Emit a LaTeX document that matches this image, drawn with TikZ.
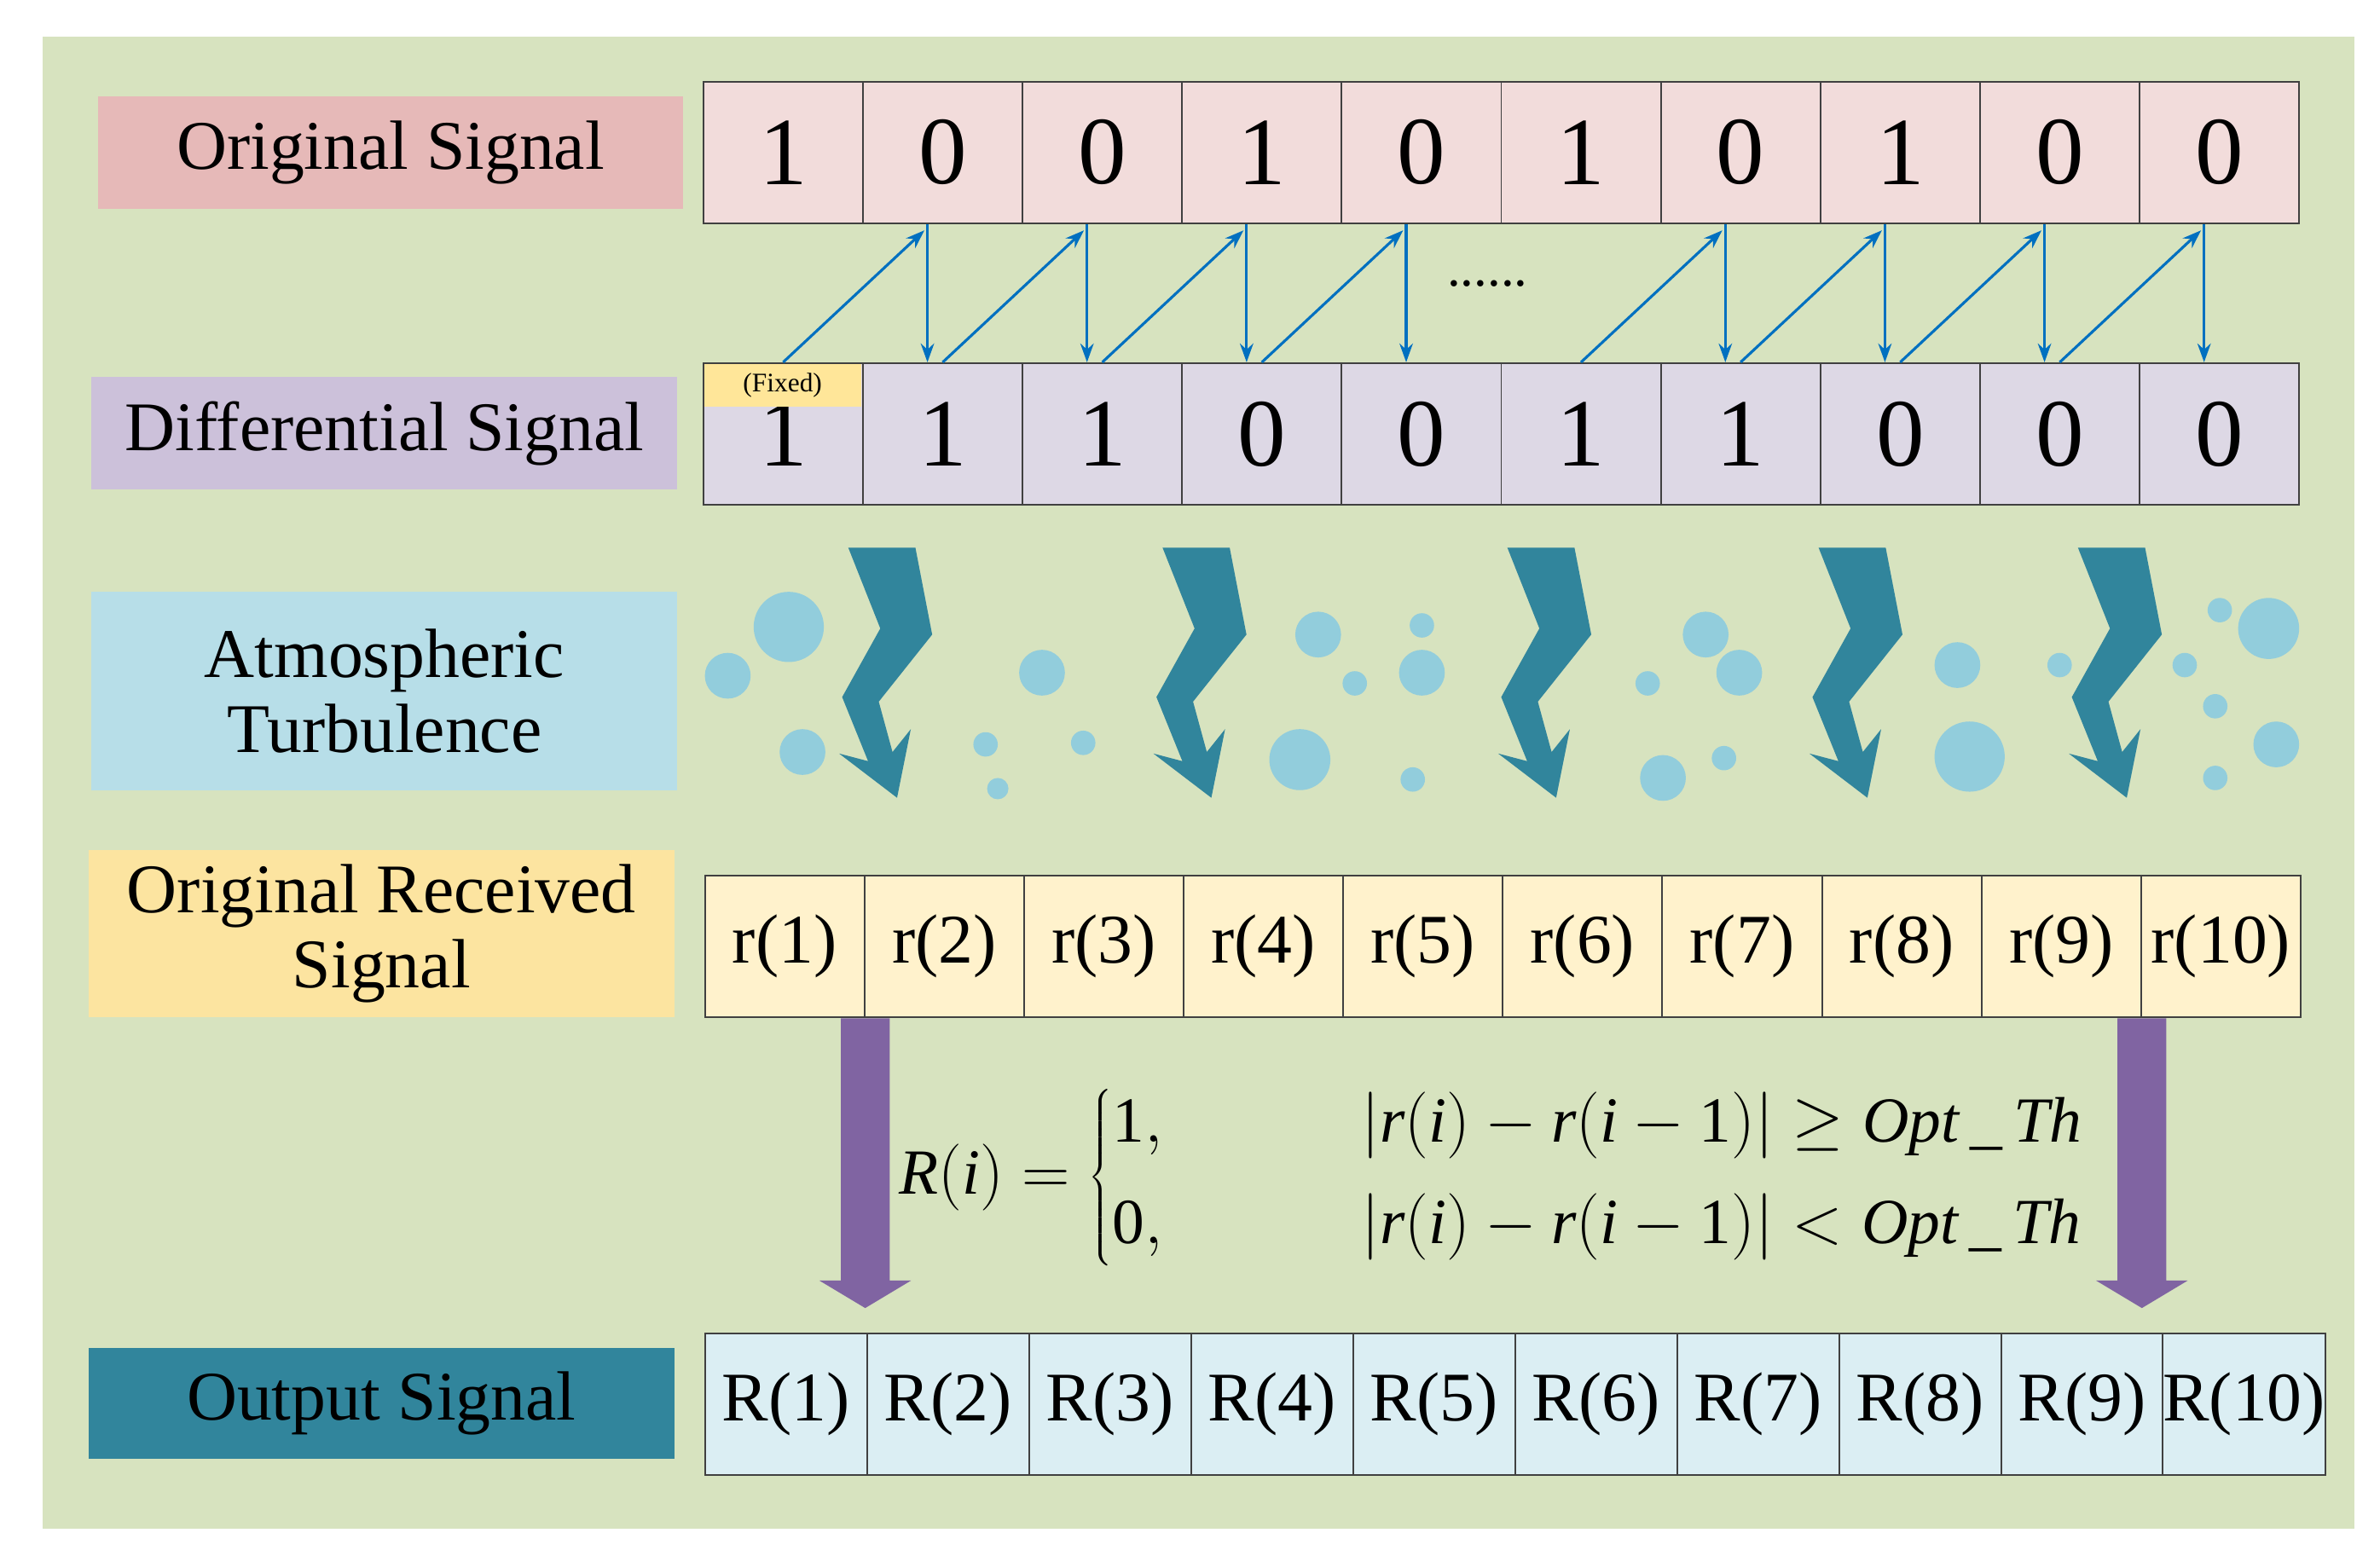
\documentclass[tikz,border=0pt]{standalone}
\usepackage{fontspec}
\setmainfont{Liberation Serif}
\usetikzlibrary{arrows.meta,calc}
\definecolor{bg}{HTML}{D7E3BF}
\definecolor{lorig}{HTML}{E6B9B8}
\definecolor{corig}{HTML}{F2DCDB}
\definecolor{ldiff}{HTML}{CCC1DA}
\definecolor{cdiff}{HTML}{DDD8E5}
\definecolor{latm}{HTML}{B7DEE8}
\definecolor{lrec}{HTML}{FCE4A0}
\definecolor{crec}{HTML}{FFF2CC}
\definecolor{lout}{HTML}{31859C}
\definecolor{cout}{HTML}{DBEEF3}
\definecolor{fixed}{HTML}{FFE699}
\definecolor{link}{HTML}{0070C0}
\definecolor{bolt}{HTML}{31859C}
\definecolor{bubble}{HTML}{92CDDC}
\definecolor{purp}{HTML}{8064A2}
\newcommand{\ti}[1]{\textit{#1}}
\newcommand{\tr}[1]{\textrm{#1}}
\begin{document}
\begin{tikzpicture}[x=0.02cm,y=-0.02cm,
  lab/.style={minimum width=7.68cm,minimum height=1.48cm,inner sep=0pt,align=center,font=\fontsize{26}{30}\selectfont},
  cell/.style={draw=black!75,line width=0.6pt,minimum width=2.092cm,minimum height=1.86cm,inner sep=0pt,font=\fontsize{36}{40}\selectfont},
  rcell/.style={cell,font=\fontsize{26}{30}\selectfont},
  link/.style={draw=link,line width=1pt,-{Stealth[length=7pt,width=5pt]}},
  fat/.style={fill=purp}]
\useasboundingbox (0,0) rectangle (1560,1020);
\fill[bg] (28,24) rectangle (1543,1002);
% labels
\node[lab,fill=lorig] (lo) at (256,100) {Original Signal};
\node[lab,fill=ldiff] (ld) at (252,284) {Differential Signal};
\node[lab,fill=latm,minimum height=2.6cm] (la) at (252,453) {Atmospheric\\[-2pt]Turbulence};
\node[lab,fill=lrec,minimum height=2.2cm] (lr) at (250,612) {Original Received\\[-2pt]Signal};
\node[lab,fill=lout,minimum height=1.46cm] (lq) at (250,920) {Output Signal};
% cells
\foreach \v [count=\k] in {1,0,0,1,0,1,0,1,0,0}
  \node[cell,fill=corig] (o\k) at ({461+104.6*(\k-0.5)},100) {\v};
\foreach \v [count=\k] in {1,1,1,0,0,1,1,0,0,0}
  \node[cell,fill=cdiff] (d\k) at ({461+104.6*(\k-0.5)},284.5) {\v};
\node[fill=fixed,minimum width=2.06cm,minimum height=0.56cm,inner sep=0pt,anchor=north west,font=\fontsize{10}{10}\selectfont] (fx) at ($(d1.north west)+(0.6,0.6)$) {(Fixed)};
\foreach \k in {1,...,10}
  \node[rcell,fill=crec] (r\k) at ({462+104.6*(\k-0.5)},620.5) {r(\k)};
\foreach \k in {1,...,10}
  \node[rcell,fill=cout,minimum width=2.124cm] (q\k) at ({462+106.2*(\k-0.5)},920.5) {R(\k)};
% differential links
\foreach \k in {2,3,4,5,7,8,9,10}{
  \draw[link] ($(o\k.south)+(-10,0)$) -- ($(d\k.north)+(-10,0)$);
  \pgfmathtruncatemacro{\p}{\k-1}
  \draw[link] (d\p.north) -- ($(o\k.south)+(-12,4)$);
}
\node[font=\fontsize{20}{20}\selectfont] (dots) at (975,186) {......};
% turbulence
\foreach \bx in {556,762,988,1192,1362}
  \fill[bolt,shift={(\bx-556,0)}] (556,359) -- (600,359) -- (611,416) -- (576,460) -- (585,493)
     -- (597,478) -- (588,523) -- (550,494) -- (569,499) -- (552,457) -- (577,412) -- cycle;
\foreach \cx/\cy/\r in {517/411/23,477/443/15,526/493/15,683/441/15,646/488/8,654/517/7,710/487/8,
  864/416/15,888/448/8,932/410/8,932/441/15,852/498/20,926/511/8,1118/416/15,1140/441/15,
  1080/448/8,1090/510/15,1130/497/8,1283/436/15,1291/496/23,1350/436/8,1455/400/8,1487/412/20,
  1432/436/8,1452/463/8,1492/488/15,1452/510/8}
  \fill[bubble] (\cx,\cy) circle[radius=\r*0.02cm];
% decision arrows
\coordinate (a1) at ($(r1.south east)$);
\coordinate (a2) at ($(r9.south east)$);
\foreach \a in {a1,a2}
  \fill[fat] ($(\a)+(-16,0)$) -- ($(\a)+(16,0)$) -- ($(\a)+(16,172)$) -- ($(\a)+(30,172)$)
     -- ($(\a)+(0,190)$) -- ($(\a)+(-30,172)$) -- ($(\a)+(-16,172)$) -- cycle;
\node[font=\fontsize{24}{28}\selectfont] (eq) at (978,772)
  {$\ti{R}(\ti{i})=\left\{\begin{array}{@{}l@{\hspace{2.6cm}}l@{}}
   \tr{1}, & \left|\ti{r}(\ti{i})-\ti{r}(\ti{i}-\tr{1})\right|\geq \ti{Opt}\,\_\,\ti{Th}\\[10pt]
   \tr{0}, & \left|\ti{r}(\ti{i})-\ti{r}(\ti{i}-\tr{1})\right|< \ti{Opt}\,\_\,\ti{Th}
   \end{array}\right.$};
\end{tikzpicture}
\end{document}
